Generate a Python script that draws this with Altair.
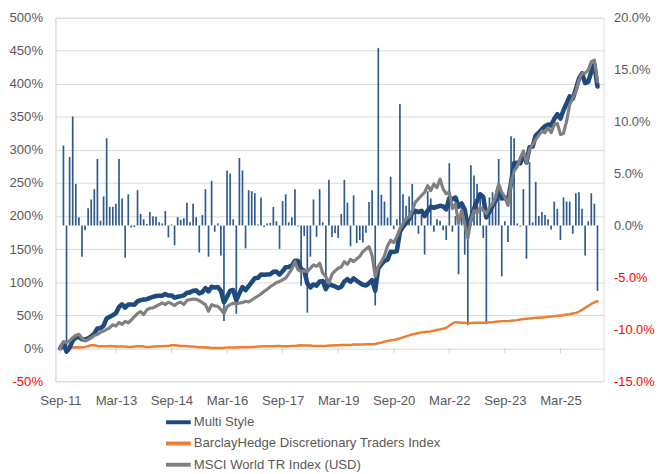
import altair as alt
import pandas as pd

# ---------------- data ----------------
x_labels = ["Sep-11", "Mar-13", "Sep-14", "Mar-16", "Sep-17",
            "Mar-19", "Sep-20", "Mar-22", "Sep-23", "Mar-25"]
label_step = 18  # months between axis labels

# cumulative performance, % (month 0 = Sep-11)
multi_style = [
    0, 7.7, -5.2, 1.0, 11.6, 16.0, 17.0, 13.5, 13.0, 14.9,
    17.8, 22.0, 29.8, 30.4, 34.0, 45.0, 47.5, 50.0, 53.0, 62.5,
    66.5, 61.5, 66.3, 66.0, 65.7, 71.0, 72.8, 73.7, 74.0, 76.2,
    77.6, 79.0, 79.4, 79.6, 82.0, 79.8, 79.9, 76.5, 77.9, 78.8,
    79.9, 83.9, 84.5, 87.0, 87.5, 83, 85, 91, 86, 93,
    92, 92.5, 87, 69.5, 78, 87, 88, 72.5, 83, 92.5,
    88, 94, 100, 106, 106.5, 111.5, 111, 111.5, 112, 115.5,
    116, 111.5, 116.5, 122.5, 123, 125, 132.5, 132.5, 119.5, 117.5,
    98, 92, 96.5, 94.5, 101, 101.5, 89.5, 97.5, 95, 93.5,
    91, 93, 101, 104.5, 100.5, 105.5, 102, 99, 96, 95,
    98.5, 103, 87, 121, 127, 132, 134, 146, 145.5, 147,
    176, 184, 189, 196, 205, 208, 206, 208, 200, 208,
    214, 212.5, 214, 215.5, 214.5, 210, 227, 225.5, 228, 214,
    219, 210, 180, 196.5, 211, 223, 233, 229, 198, 206,
    215.5, 223, 243, 226.5, 228, 222.5, 250, 280, 280.5, 280,
    293.5, 281, 304, 305, 322, 326, 331.5, 336, 338.5, 337,
    347, 354, 347.5, 360, 370.5, 381, 377.5, 392, 408, 416,
    401, 403, 418.5, 429.5, 396,
]

barclay = [
    0, 0.5, 1, 0.5, 1, 1.5, 1, 1.5, 2, 3,
    4.5, 4.5, 3.5, 3, 3, 3, 3.5, 3, 2.5, 2.5,
    2.5, 2.5, 2, 2, 2.5, 3, 3, 2.5, 2, 2,
    2.5, 2.5, 3, 3, 3.5, 3.5, 4.5, 4.5, 4, 3.5,
    3.5, 3, 2.5, 2.5, 2, 1.5, 1.5, 1, 1, 0.5,
    0.5, 0.5, 0.5, 0.5, 1, 1, 1, 1, 1.5, 1.5,
    1.5, 1.5, 2, 2, 2.5, 2.5, 3, 3, 3, 3,
    3.5, 3.5, 3, 3, 3, 3.5, 3.5, 4, 4.5, 4,
    4, 4, 3.5, 3.5, 3.5, 3.5, 3.5, 4, 4, 4.5,
    4.5, 5, 5, 5, 5, 5.5, 5.5, 5.5, 5.5, 6,
    6, 6, 6.5, 7.5, 8.5, 10, 11, 12, 12.5, 13.5,
    15, 16.5, 18, 19.5, 21, 22, 23, 24, 24.5, 25,
    25.5, 26.5, 27.5, 28.5, 29.5, 31, 34, 37.5, 39.5, 39,
    38.5, 38.5, 38, 38, 38.5, 38.5, 38.5, 38.5, 39, 39,
    39.5, 40, 40.5, 41, 41, 41, 41.5, 42, 42.5, 43.5,
    44, 44.5, 45, 45.5, 46, 46, 46.5, 47, 47.5, 48,
    48.5, 49, 49.5, 50, 51, 51.5, 52.5, 53.5, 55.5, 58,
    61, 64, 67, 69.5, 71,
]

msci = [
    0, 10, 8.5, 11, 16, 19.5, 21, 15, 11, 13,
    16, 19, 21, 24, 26, 28.5, 31, 35.5, 33.5, 39,
    36, 40.5, 38.5, 43, 48, 52.5, 55.5, 51, 58, 60.5,
    61, 63.5, 66, 68.5, 66, 69.5, 67.5, 64.5, 68.5, 69.5,
    66, 72.5, 73.5, 74.5, 74, 72, 69, 66, 56, 66,
    64, 63.5, 58.5, 52.5, 63, 66, 68, 67, 68.5, 69,
    71, 70, 73, 76, 79, 82, 86, 89, 93, 96,
    99.5, 101, 103.5, 106, 113, 120, 131, 118.5, 116, 117,
    116, 121, 126, 124, 128.5, 113.5, 108.5, 98.5, 112, 117,
    121, 123, 131, 127, 134.5, 131, 135, 139, 146, 150,
    153.5, 140, 108.5, 123.5, 131, 140, 155, 163.5, 160, 168.5,
    181, 188.5, 196, 198.5, 208.5, 221, 226, 231, 236, 246,
    238.5, 248.5, 243, 256, 241, 233.5, 236, 211, 218.5, 188.5,
    208.5, 188.5, 166, 193.5, 208.5, 204, 213.5, 208.5, 203.5, 213.5,
    218.5, 228.5, 248.5, 236, 228.5, 216, 250, 268.5, 275, 288,
    298.5, 281, 301, 308, 316, 322, 328.5, 326, 333.5, 326,
    338.5, 340, 323.5, 325, 343.5, 368.5, 378.5, 388.5, 406, 416,
    416, 421, 433.5, 436, 403,
]

# Multi Style monthly returns, % (right axis), from Oct-11
monthly = [
    7.7, -12.0, 6.6, 10.5, 4.0, 0.8, -3.0, -0.45, 1.65, 2.5,
    3.5, 6.4, 0.45, 2.8, 8.4, 1.8, 1.8, 2.1, 6.4, 2.6,
    -3.1, 3.0, -0.2, -0.15, 3.4, 1.1, 0.6, 0.15, 1.3, 0.9,
    0.85, 0.3, 0.2, 1.4, -1.15, 0.1, -1.9, 0.8, 0.55, 0.7,
    2.2, 0.3, 2.1, 0.8, -2.6, 1.0, 3.5, -3.0, 4.3, -0.6,
    0.2, -2.9, -9.2, 5.3, 5.0, 0.6, -8.5, 6.5, 5.3, -2.2,
    3.4, 3.3, 3.1, 0.1, 2.7, -0.15, 0.2, 0.25, 1.8, 0.4,
    -2.25, 2.35, 3.0, 0.3, 0.8, 3.5, -0.1, -5.8, -1.0, -8.4,
    -3.0, 2.5, -1.1, 3.5, 0.3, -6.2, 4.4, -1.1, -0.75, -1.2,
    1.1, 4.4, 2.2, -2.0, 2.9, -1.7, -1.4, -1.65, -0.7, 2.25,
    3.4, -7.7, 17.1, 2.95, 2.3, 0.75, 4.7, -0.35, 0.6, 11.7,
    3.0, 1.9, 2.8, 4.0, 1.6, -0.8, 1.0, -2.8, 3.3, 2.6,
    -0.6, 0.6, 0.45, -0.45, -1.4, 6.0, -0.6, 0.9, -4.7, 1.7,
    -2.8, -9.6, 5.8, 4.8, 4.0, 3.0, -1.2, -9.5, 2.7, 3.2,
    2.3, 6.4, -4.9, 0.4, -1.6, 8.6, 8.4, 0.2, -0.1, 3.5,
    -3.2, 6.1, 0.3, 4.2, 0.9, 1.3, 1.0, 0.6, -0.4, 2.3,
    1.6, -1.4, 2.7, 2.3, 2.3, -0.8, 3.1, 3.2, 1.6, -2.9,
    0.4, 3.1, 2.1, -6.3,
]

series_names = ["Multi Style", "BarclayHedge Discretionary Traders Index",
                "MSCI World TR Index (USD)"]
series_colors = ["#1F4A7E", "#ED7D31", "#808080"]
series_widths = [4.6, 2.5, 3.2]

n = len(multi_style)
idx = list(range(n))
lines_df = pd.concat([
    pd.DataFrame({"idx": idx, "value": vals, "series": name})
    for name, vals in zip(series_names, [multi_style, barclay, msci])
], ignore_index=True)
bars_df = pd.DataFrame({"idx": list(range(1, n)), "ret": monthly})
tick_positions = [k * label_step for k in range(len(x_labels))]
ticks_df = pd.DataFrame({"idx": tick_positions})

# ---------------- styling ----------------
FONT = "Liberation Sans"
FS = 13.3
GRAY = "#595959"
RED = "#FF0000"
GRID = "#D9D9D9"
BAR = "#2E5A8E"

label_color = {"condition": {"test": "datum.value < 0", "value": RED}, "value": GRAY}
labels_js = "[" + ",".join("'%s'" % s for s in x_labels) + "]"

x_scale = alt.Scale(domain=[0, 174.4], nice=False, zero=False)
x_axis = alt.Axis(values=tick_positions, labelExpr=labels_js + "[round(datum.value / %d)]" % label_step,
                  ticks=False, domain=False, grid=False, labelPadding=13, title=None,
                  labelFont=FONT, labelFontSize=FS, labelColor=GRAY, labelOverlap=False)

left_scale = alt.Scale(domain=[-50, 500], nice=False, zero=False)
left_axis = alt.Axis(orient="left", values=list(range(-50, 501, 50)),
                     labelExpr="datum.value + '%'", labelColor=label_color,
                     grid=True, gridColor=GRID, gridWidth=1,
                     domain=True, domainColor=GRID, ticks=False, labelPadding=13,
                     title=None, labelFont=FONT, labelFontSize=FS)

right_scale = alt.Scale(domain=[-15, 20], nice=False, zero=False)
right_axis = alt.Axis(orient="right", values=list(range(-15, 21, 5)),
                      labelExpr="(datum.value < 0 ? '-' : '') + format(abs(datum.value), '.1f') + '%'",
                      labelColor=label_color, grid=False, domain=False, ticks=False,
                      labelPadding=10, title=None, labelFont=FONT, labelFontSize=13)

color_scale = alt.Scale(domain=series_names, range=series_colors)
legend = alt.Legend(title=None, orient="none", legendX=115, legendY=400, direction="vertical",
                    symbolType="M-1.67,0H1.67", symbolSize=225, symbolStrokeWidth=4,
                    labelFont=FONT, labelFontSize=FS, labelColor=GRAY, labelOffset=6,
                    rowPadding=3.5, padding=0, labelLimit=400)

bars = alt.Chart(bars_df).mark_bar(size=1.7, color=BAR).encode(
    x=alt.X("idx:Q", scale=x_scale, axis=x_axis),
    y=alt.Y("ret:Q", scale=right_scale, axis=right_axis),
    y2=alt.Y2Datum(0),
)


def line_layer(name, width):
    return alt.Chart(lines_df).transform_filter(alt.datum.series == name).mark_line(
        strokeWidth=width, strokeJoin="round", strokeCap="round"
    ).encode(
        x=alt.X("idx:Q", scale=x_scale, axis=x_axis),
        y=alt.Y("value:Q", scale=left_scale, axis=left_axis),
        color=alt.Color("series:N", scale=color_scale, legend=legend, sort=series_names),
    )


ticks = alt.Chart(ticks_df).mark_tick(orient="vertical", size=5, thickness=1,
                                      color="#BFBFBF", yOffset=2.5).encode(
    x=alt.X("idx:Q", scale=x_scale, axis=x_axis),
    y=alt.YDatum(0, scale=left_scale, axis=left_axis),
)

lines = alt.layer(
    line_layer(series_names[1], series_widths[1]),
    line_layer(series_names[0], series_widths[0]),
    line_layer(series_names[2], series_widths[2]),
    ticks,
)

chart = alt.layer(bars, lines).resolve_scale(y="independent").properties(
    width=555, height=368,
    autosize=alt.AutoSizeParams(type="none"),
    padding={"left": 48, "top": 7, "right": 53, "bottom": 91},
).configure_view(stroke=None).configure(font=FONT)

chart.save("out.html", embed_options={"renderer": "svg", "actions": False})
